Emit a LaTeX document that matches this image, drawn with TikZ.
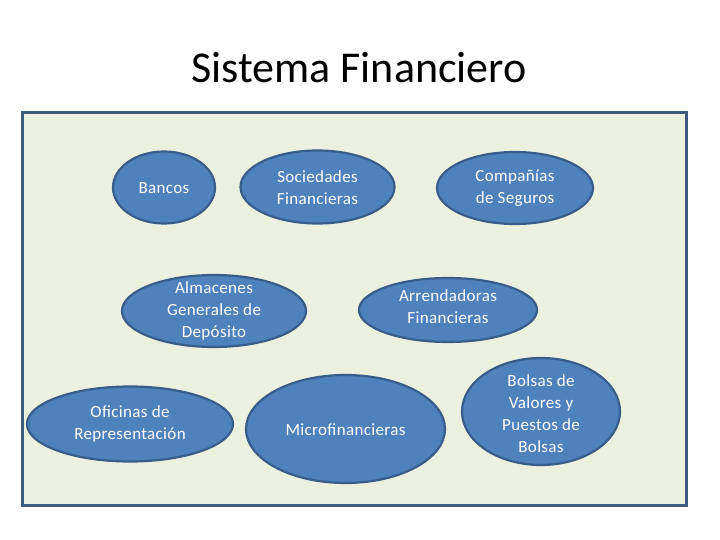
\documentclass[tikz,border=0pt]{standalone}
\usepackage{fontspec}
\setmainfont{Carlito}[LetterSpace=2]
\usetikzlibrary{shapes.geometric}
\definecolor{framefill}{HTML}{EBF1DE}
\definecolor{framedraw}{HTML}{3F5B80}
\definecolor{ellfill}{HTML}{4F81BD}
\definecolor{elldraw}{HTML}{385D8A}
\tikzset{
  ell/.style={ellipse, draw=elldraw, fill=ellfill, line width=2.2pt, inner sep=0pt},
  etext/.style={text=white, align=center, font=\fontsize{17}{22}\selectfont, inner sep=0pt},
}
\begin{document}
\begin{tikzpicture}[x=1pt,y=-1pt]
\path[fill=white,use as bounding box] (0,0) rectangle (720,540);
\node[font=\fontsize{44}{52}\selectfont, text=black] (title) at (359,68) {\addfontfeature{LetterSpace=0}Sistema Financiero};
\draw[framedraw, fill=framefill, line width=3pt] (22.5,113) rectangle (686.5,505);

\node[ell, minimum width=102pt, minimum height=72pt] (bancos) at (164,187.5) {};
\node[etext] at (164,188) {Bancos};

\node[ell, minimum width=154pt, minimum height=73pt] (soc) at (317.5,187) {};
\node[etext] at (317.5,188) {Sociedades\\Financieras};

\node[ell, minimum width=156pt, minimum height=72pt] (comp) at (515,188) {};
\node[etext] at (515,188) {Compañías\\de Seguros};

\node[ell, minimum width=184pt, minimum height=72pt] (alm) at (214,311) {};
\node[etext] at (214,311) {Almacenes\\Generales de\\Depósito};

\node[ell, minimum width=178pt, minimum height=64pt] (arr) at (448,310) {};
\node[etext] at (448,306.5) {Arrendadoras\\Financieras};

\node[ell, minimum width=206pt, minimum height=75pt] (ofi) at (130,424) {};
\node[etext] at (130,423.5) {Oficinas de\\Representación};

\node[ell, minimum width=199pt, minimum height=108pt] (micro) at (345.5,429) {};
\node[etext] at (345.5,430) {Microfinancieras};

\node[ell, minimum width=158pt, minimum height=107pt] (bolsas) at (541,411.5) {};
\node[etext] at (541,413.5) {Bolsas de\\Valores y\\Puestos de\\Bolsas};
\end{tikzpicture}
\end{document}
